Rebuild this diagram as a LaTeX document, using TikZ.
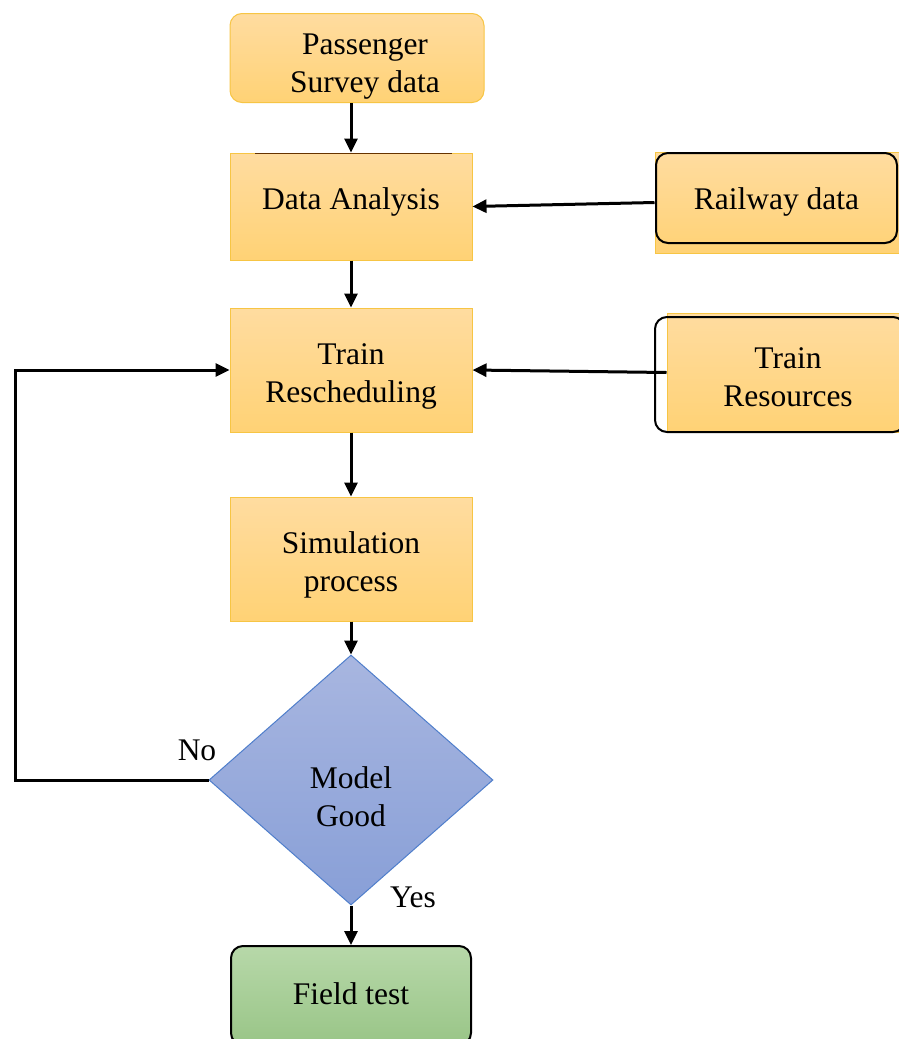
\documentclass[tikz,border=0pt]{standalone}
\usepackage{fontspec}
\setmainfont{Liberation Serif}
\usetikzlibrary{arrows.meta,shapes.geometric}
\definecolor{obord}{HTML}{F7C544}
\definecolor{otop}{HTML}{FFDCA0}
\definecolor{obot}{HTML}{FFD275}
\definecolor{btop}{HTML}{A8B6E0}
\definecolor{bbot}{HTML}{889FD7}
\definecolor{bbord}{HTML}{4F7ECB}
\definecolor{gtop}{HTML}{B7D8A9}
\definecolor{gbot}{HTML}{99C587}
\tikzset{
  txt/.style={font=\fontsize{31.5}{38}\selectfont, align=center, text=black, inner sep=0pt},
  obox/.style={draw=obord, line width=1pt, top color=otop, bottom color=obot, inner sep=0pt},
  outl/.style={draw=black, line width=2pt, rounded corners=12pt, inner sep=0pt},
  arr/.style={line width=3pt, -{Triangle[width=13pt,length=14pt]}},
}
\begin{document}
\begin{tikzpicture}[x=1pt,y=-1pt]
\clip (0,0) rectangle (899,1039);
\useasboundingbox (0,0) rectangle (899,1039);
\fill[white] (0,0) rectangle (899,1039);

% boxes
\node[obox, rounded corners=12pt, minimum width=254pt, minimum height=89pt] (ps) at (357,58) {};
\node[obox, minimum width=242pt, minimum height=107pt] (da) at (351,206.5) {};
\draw[line width=1pt, color=black!60!orange] (255,153) -- (452,153);

\node[obox, minimum width=244pt, minimum height=101pt] (rdbg) at (777,202.5) {};
\node[outl, minimum width=241pt, minimum height=90pt] (rd) at (776.5,198) {};

\node[obox, minimum width=242pt, minimum height=124pt] (tr) at (351,370) {};

\node[obox, minimum width=238pt, minimum height=119pt] (tsbg) at (786,372.5) {};
\node[outl, minimum width=250pt, minimum height=115pt] (ts) at (780,374.5) {};

\node[obox, minimum width=242pt, minimum height=124pt] (sp) at (351,559) {};

\node[shape=diamond, draw=bbord, line width=1pt, top color=btop, bottom color=bbot, inner sep=0pt, aspect=1.136, minimum width=284pt, minimum height=250pt] (mg) at (351,780) {};

\node[draw=black, line width=2pt, rounded corners=12pt, top color=gtop, bottom color=gbot, minimum width=240pt, minimum height=99pt, inner sep=0pt] (ft) at (351,995.5) {};

% texts
\node[txt] (pst) at (365,67) {Passenger\\Survey data};
\node[txt] (dat) at (351,201.5) {Data Analysis};
\node[txt] (rdt) at (776.5,202) {Railway data};
\node[txt] (trt) at (351,376) {Train\\Rescheduling};
\node[txt] (tst) at (788,377.5) {Train\\Resources};
\node[txt] (spt) at (351,565) {Simulation\\process};
\node[txt] (mgt) at (351,796.5) {Model\\Good};
\node[txt] (ftt) at (351,993.5) {Field test};
\node[txt] (no) at (197,750) {No};
\node[txt] (yes) at (413,897) {Yes};

\coordinate (lp) at (15,780);

% connectors
\draw[arr] (da.north |- ps.south) -- (da.north);
\draw[arr] (rdbg.west) -- (da.east);
\draw[arr] (da.south) -- (tr.north);
\draw[arr] (tsbg.west) -- (tr.east);
\draw[arr] (tr.south) -- (sp.north);
\draw[arr] (sp.south) -- (mg.north);
\draw[arr] (mg.west) -- (lp) |- (tr.west);
\draw[arr] (mg.south) -- (ft.north);
\end{tikzpicture}
\end{document}
